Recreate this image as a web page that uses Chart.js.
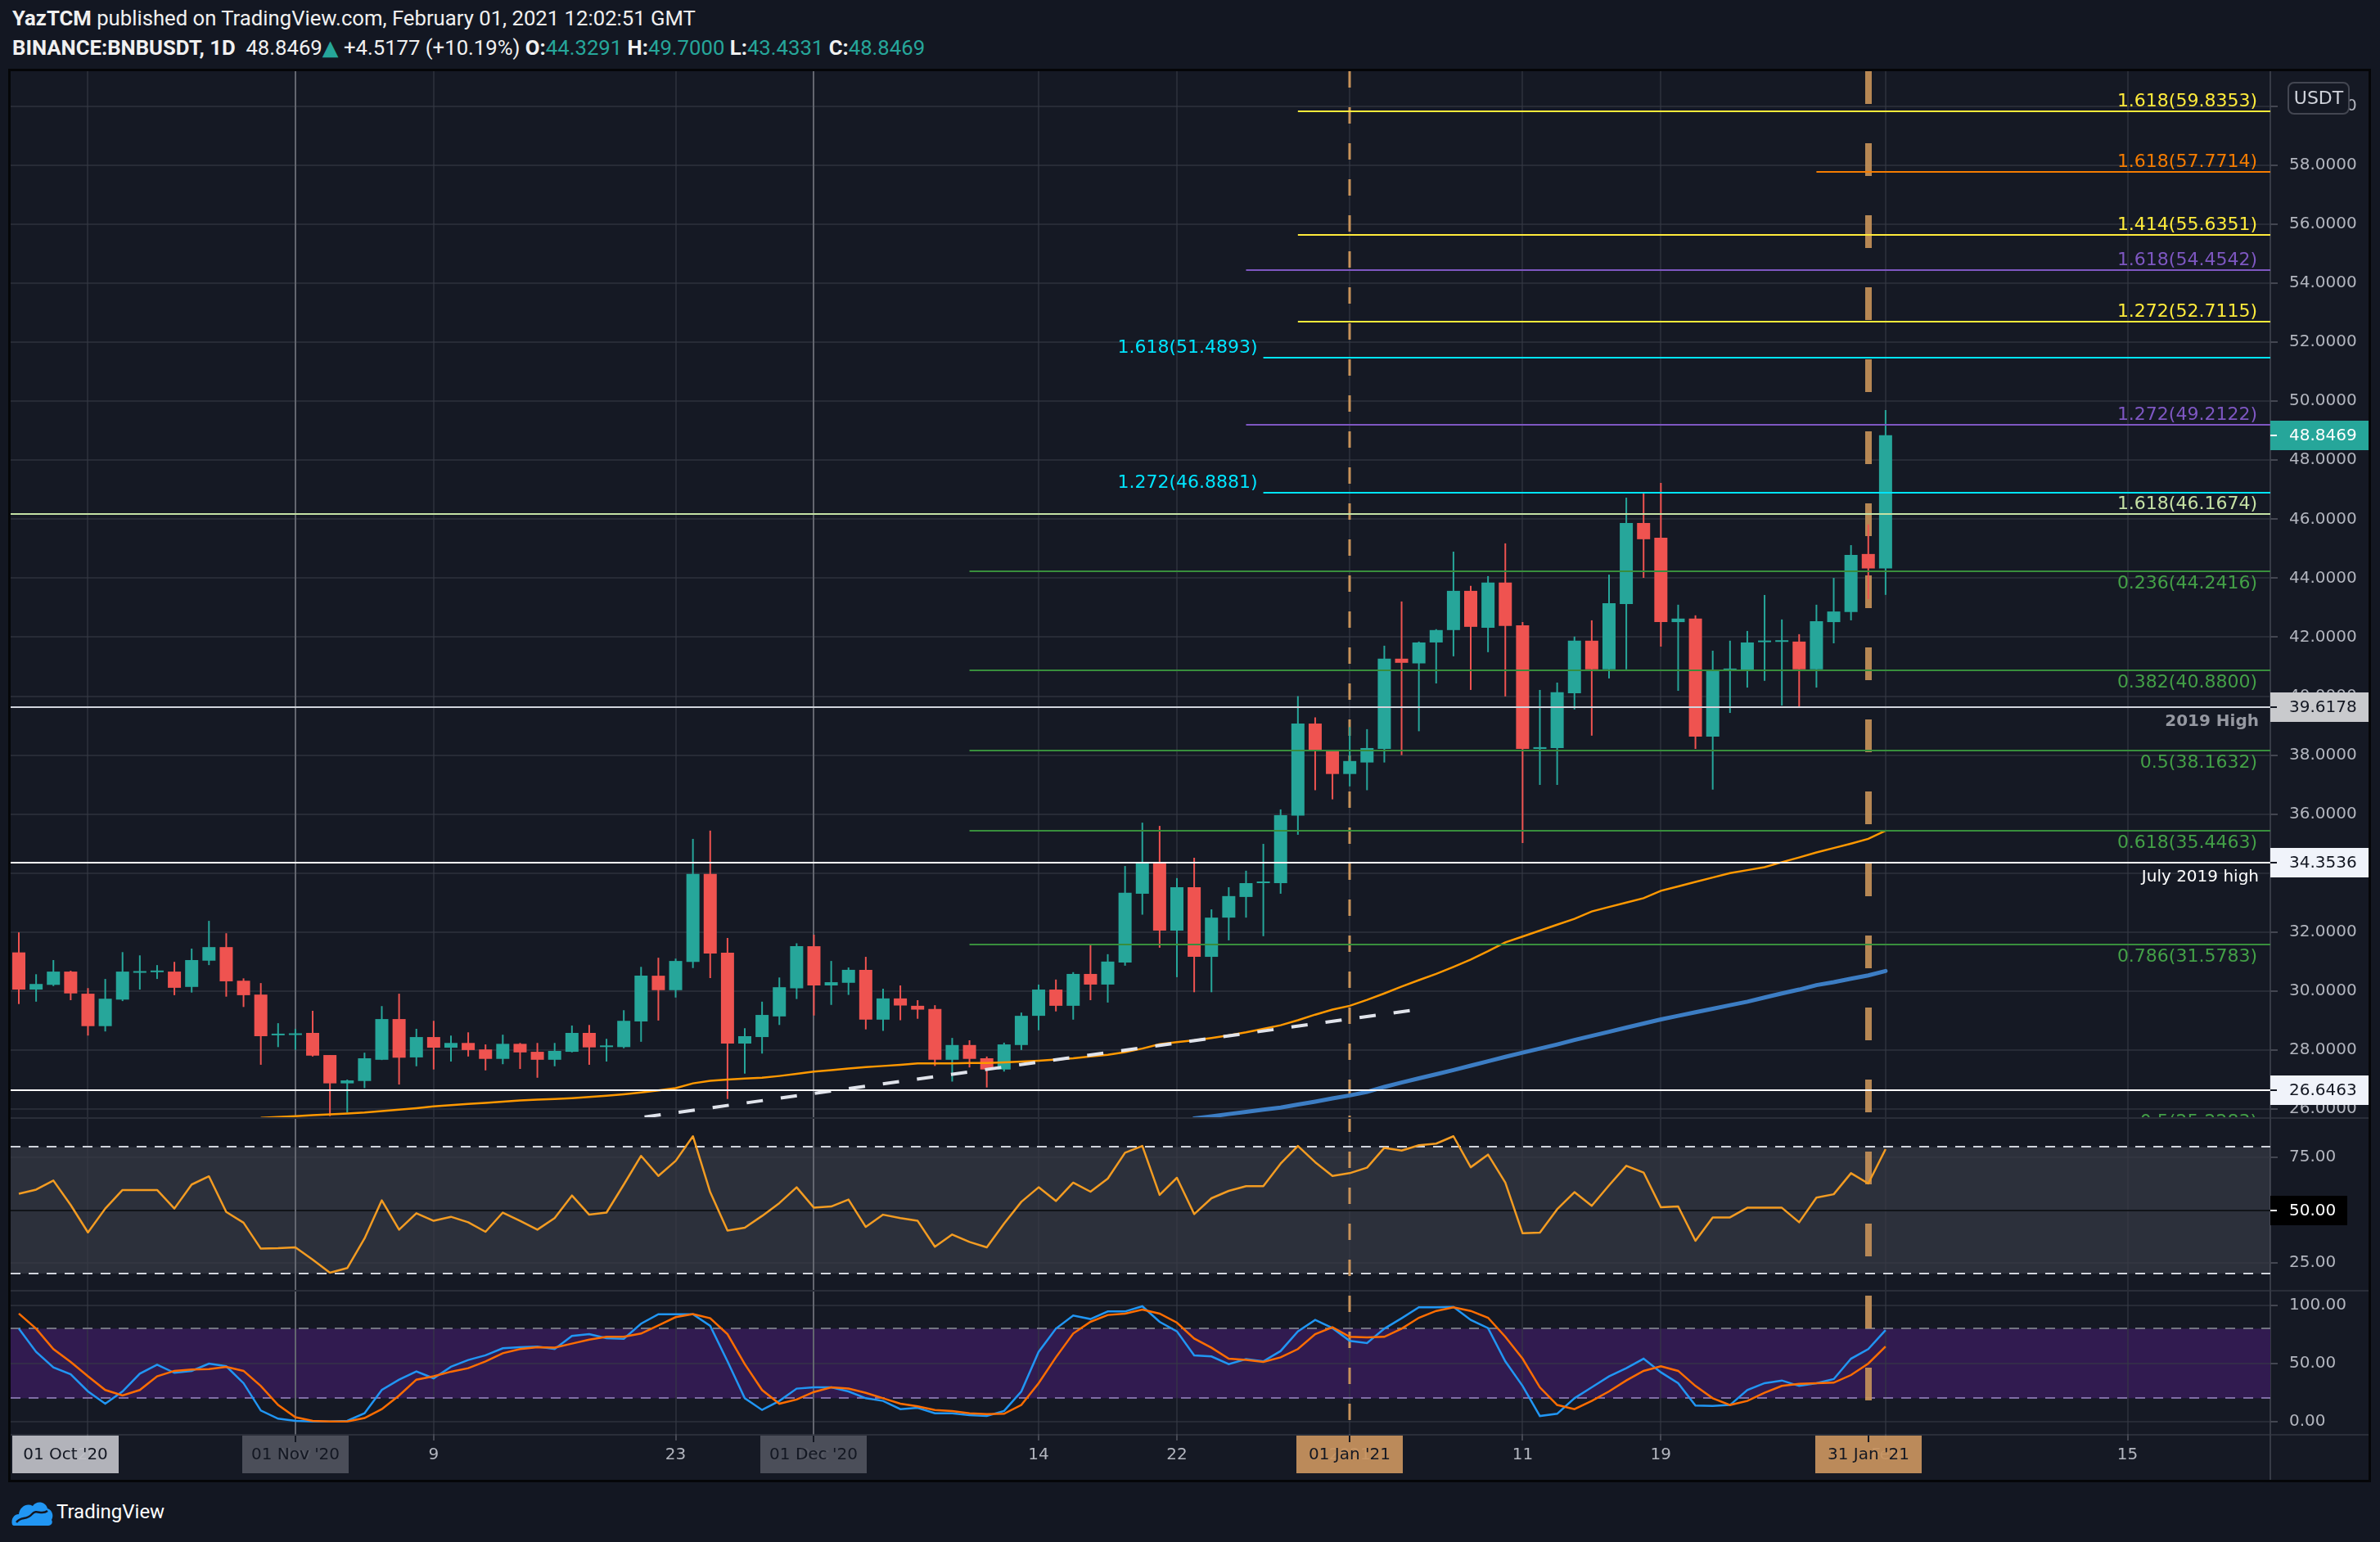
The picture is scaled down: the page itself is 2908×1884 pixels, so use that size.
<!DOCTYPE html>
<html>
<head>
<meta charset="utf-8">
<title>BINANCE:BNBUSDT 1D</title>
<script src="https://cdn.jsdelivr.net/npm/chart.js@4.4.1/dist/chart.umd.min.js"></script>
<style>
  html, body { margin:0; padding:0; width:2908px; height:1884px; background:#131722; overflow:hidden; }
  body { position:relative; font-family: Roboto, "DejaVu Sans", sans-serif; }
  #frame { position:absolute; left:10px; top:84px; width:2887px; height:1727px; box-sizing:border-box; border:3px solid #050608; background:#151924; }
  .hl { position:absolute; background:#2a2e39; }
  canvas { position:absolute; }
  .hdr { position:absolute; left:15px; font-size:25.7px; line-height:30px; color:#f0f0f0; white-space:nowrap; }
  .hdr b { font-weight:700; }
  .teal { color:#26a69a; }
  #tvtext { position:absolute; left:69px; top:1832px; font-size:24px; line-height:30px; color:#ffffff; }
</style>
</head>
<body>
<div id="frame"></div>
<div class="hl" style="left:13px;top:1365px;width:2881px;height:2px"></div>
<div class="hl" style="left:13px;top:1576px;width:2881px;height:2px"></div>
<div class="hl" style="left:13px;top:1752px;width:2881px;height:2px"></div>
<div class="hl" style="left:2773px;top:87px;width:2px;height:1721px;background:#363a45"></div>
<canvas id="cMain" width="2881" height="1278" style="left:13px;top:87px;width:2881px;height:1278px"></canvas>
<canvas id="cRsi" width="2881" height="209" style="left:13px;top:1367px;width:2881px;height:209px"></canvas>
<canvas id="cSto" width="2881" height="230" style="left:13px;top:1578px;width:2881px;height:230px"></canvas>

<div class="hdr" style="top:7px"><b>YazTCM</b> published on TradingView.com, February 01, 2021 12:02:51 GMT</div>
<div class="hdr" style="top:43px"><b>BINANCE:BNBUSDT, 1D</b>&nbsp; 48.8469<span class="teal">▲</span> +4.5177 (+10.19%) <b>O:</b><span class="teal">44.3291</span> <b>H:</b><span class="teal">49.7000</span> <b>L:</b><span class="teal">43.4331</span> <b>C:</b><span class="teal">48.8469</span></div>

<svg style="position:absolute;left:12px;top:1830px" width="54" height="36" viewBox="0 0 54 36">
  <path d="M3 33 C1 26 5 20 11 20 C12 11 21 6 28 10 C32 3 44 4 46 13 C52 15 54 22 51 27 C53 30 51 34 47 34 L7 34 C5 34 4 34 3 33 Z" fill="#2196f3"/>
  <path d="M8 30 C14 22 20 28 27 20 C33 13 38 22 46 16" stroke="#131722" stroke-width="2.5" fill="none"/>
</svg>
<div id="tvtext">TradingView</div>

<script>
// ---------------- DATA ----------------
const dates = [
'2020-10-16','2020-10-17','2020-10-18','2020-10-19','2020-10-20','2020-10-21','2020-10-22','2020-10-23','2020-10-24','2020-10-25','2020-10-26','2020-10-27','2020-10-28','2020-10-29','2020-10-30','2020-10-31',
'2020-11-01','2020-11-02','2020-11-03','2020-11-04','2020-11-05','2020-11-06','2020-11-07','2020-11-08','2020-11-09','2020-11-10','2020-11-11','2020-11-12','2020-11-13','2020-11-14','2020-11-15','2020-11-16','2020-11-17','2020-11-18','2020-11-19','2020-11-20','2020-11-21','2020-11-22','2020-11-23','2020-11-24','2020-11-25','2020-11-26','2020-11-27','2020-11-28','2020-11-29','2020-11-30',
'2020-12-01','2020-12-02','2020-12-03','2020-12-04','2020-12-05','2020-12-06','2020-12-07','2020-12-08','2020-12-09','2020-12-10','2020-12-11','2020-12-12','2020-12-13','2020-12-14','2020-12-15','2020-12-16','2020-12-17','2020-12-18','2020-12-19','2020-12-20','2020-12-21','2020-12-22','2020-12-23','2020-12-24','2020-12-25','2020-12-26','2020-12-27','2020-12-28','2020-12-29','2020-12-30','2020-12-31',
'2021-01-01','2021-01-02','2021-01-03','2021-01-04','2021-01-05','2021-01-06','2021-01-07','2021-01-08','2021-01-09','2021-01-10','2021-01-11','2021-01-12','2021-01-13','2021-01-14','2021-01-15','2021-01-16','2021-01-17','2021-01-18','2021-01-19','2021-01-20','2021-01-21','2021-01-22','2021-01-23','2021-01-24','2021-01-25','2021-01-26','2021-01-27','2021-01-28','2021-01-29','2021-01-30','2021-01-31',
'2021-02-01'];

const open = [31.31,30.05,30.21,30.66,29.91,28.81,29.71,30.62,30.64,30.66,
30.14,31.03,31.49,30.35,29.88,28.50,28.51,28.58,27.83,26.87,
26.95,27.67,29.05,27.75,28.44,28.08,28.24,28.02,27.70,28.21,
27.94,27.67,27.94,28.58,28.10,28.10,28.97,30.52,30.03,30.99,
33.97,31.30,28.22,28.44,29.14,30.09,31.52,30.19,30.28,30.72,
29.03,29.75,29.50,29.39,27.67,28.17,27.72,27.34,28.17,29.16,
30.05,29.50,30.58,30.22,30.97,33.30,34.33,32.05,33.52,31.16,
32.49,33.19,33.66,33.66,35.95,39.07,38.17,37.36,37.75,38.21,
41.27,41.11,41.82,42.24,43.57,42.32,43.85,42.40,38.21,38.24,
40.10,41.88,40.91,43.12,45.87,45.37,42.51,42.63,38.63,40.88,
40.88,41.83,41.84,41.85,40.91,42.51,42.85,44.82,44.3291];

const high = [31.99,30.57,31.05,30.69,30.10,30.41,31.32,31.21,30.88,30.99,
31.44,32.38,31.96,30.43,30.27,28.91,28.72,29.33,27.83,27.00,
27.91,29.49,29.91,28.72,28.99,28.49,28.60,28.19,28.52,28.24,
28.24,28.24,28.83,28.85,28.38,29.35,30.82,31.13,31.10,35.16,
35.44,31.80,28.74,29.64,30.46,31.62,31.91,31.02,30.80,31.16,
30.08,30.19,29.69,29.52,28.41,28.33,27.78,28.25,29.27,30.22,
30.39,30.64,31.58,31.25,34.24,35.71,35.60,33.83,34.52,32.77,
33.52,34.08,34.99,36.16,40.00,39.28,38.17,38.95,38.88,41.71,
43.21,41.85,42.27,44.90,43.74,44.07,45.18,42.51,40.21,40.46,
42.02,42.57,44.12,46.73,46.87,47.23,43.10,42.74,41.54,41.88,
42.21,43.43,42.60,42.10,43.10,44.01,45.12,45.82,49.70];

const low = [29.56,29.64,30.17,29.69,28.49,28.63,29.66,30.05,30.41,29.86,
29.95,30.88,29.81,29.46,27.50,28.10,28.01,27.78,25.76,25.88,
26.71,27.66,26.83,27.45,27.34,27.61,27.78,27.31,27.52,27.36,
27.06,27.45,27.92,27.50,27.61,28.06,28.28,29.00,29.78,30.78,
30.44,26.34,27.20,27.88,28.85,29.73,29.17,29.53,29.87,28.70,
28.65,29.01,29.06,27.46,26.93,27.41,26.73,27.27,28.00,28.67,
29.31,29.03,29.69,29.61,30.86,32.59,31.47,30.47,29.96,29.96,
31.72,32.49,31.86,33.30,35.30,36.81,36.50,36.94,36.81,37.75,
38.00,38.81,40.43,41.35,40.21,41.49,39.99,35.02,36.99,36.99,
39.55,38.66,40.60,40.91,44.01,41.68,40.18,38.21,36.83,39.43,
40.29,40.52,39.68,39.65,40.29,41.79,42.57,43.29,43.4331];

const close = [30.05,30.24,30.66,29.92,28.81,29.74,30.66,30.66,30.68,30.11,
31.05,31.49,30.33,29.86,28.47,28.53,28.54,27.81,26.87,26.97,
27.72,29.05,27.74,28.44,28.08,28.24,28.00,27.70,28.21,27.92,
27.67,27.97,28.58,28.09,28.14,28.99,30.52,30.03,31.02,33.97,
31.27,28.22,28.47,29.19,30.13,31.52,30.19,30.30,30.72,29.03,
29.75,29.51,29.37,27.67,28.17,27.70,27.34,28.19,29.16,30.05,
29.50,30.58,30.22,31.00,33.33,34.33,32.05,33.52,31.16,32.49,
33.22,33.66,33.70,35.96,39.07,38.14,37.36,37.80,38.24,41.27,
41.13,41.82,42.24,43.57,42.35,43.85,42.38,38.21,38.27,40.13,
41.88,40.91,43.15,45.87,45.32,42.51,42.63,38.63,40.88,40.93,
41.82,41.86,41.86,40.91,42.54,42.87,44.79,44.3292,48.8469];

const maOrange = [null,null,null,null,null,null,null,null,null,null,
null,null,null,null,25.70,25.73,25.76,25.79,25.82,25.85,
25.88,25.93,25.98,26.03,26.09,26.13,26.17,26.21,26.25,26.29,
26.32,26.34,26.37,26.41,26.45,26.50,26.56,26.63,26.71,26.87,
26.96,27.00,27.03,27.06,27.12,27.19,27.27,27.32,27.37,27.42,
27.46,27.50,27.55,27.55,27.55,27.56,27.56,27.58,27.61,27.64,
27.68,27.72,27.78,27.84,27.93,28.05,28.20,28.27,28.33,28.41,
28.50,28.60,28.72,28.84,29.01,29.20,29.37,29.50,29.70,29.92,
30.15,30.37,30.58,30.82,31.07,31.35,31.65,31.85,32.05,32.25,
32.45,32.70,32.85,33.00,33.15,33.40,33.55,33.70,33.85,34.00,
34.10,34.20,34.37,34.53,34.70,34.85,35.00,35.16,35.44];

const maBlue = [null,null,null,null,null,null,null,null,null,null,
null,null,null,null,null,null,null,null,null,null,
null,null,null,null,null,null,null,null,null,null,
null,null,null,null,null,null,null,null,null,null,
null,null,null,null,null,null,null,null,null,null,
null,null,null,null,null,null,null,null,null,null,
null,null,null,null,null,null,null,null,25.68,25.75,
25.83,25.90,25.98,26.05,26.15,26.25,26.36,26.46,26.58,26.75,
26.90,27.04,27.18,27.32,27.47,27.62,27.77,27.91,28.05,28.19,
28.34,28.48,28.62,28.76,28.90,29.04,29.16,29.28,29.40,29.52,
29.64,29.78,29.92,30.05,30.20,30.30,30.42,30.53,30.68];

const rsi = [57.8,59.8,64.1,52.5,39.5,50.8,59.6,59.6,59.6,50.8,
62.2,66.1,49.2,44.1,31.8,32.0,32.4,26.6,20.4,22.6,
36.6,54.7,40.8,48.6,45.0,46.9,44.3,39.8,48.9,45.0,
40.8,46.3,57.0,47.9,48.9,62.2,75.8,66.3,73.4,85.1,
58.6,40.4,41.7,47.3,53.4,60.9,51.2,51.8,55.1,42.1,
47.9,46.3,45.0,32.7,38.5,35.0,32.4,43.7,54.0,60.9,
54.4,63.1,58.8,65.0,77.3,80.5,57.3,65.4,48.2,55.7,
59.2,61.4,61.4,72.1,80.5,72.8,66.3,67.6,70.2,79.6,
78.3,80.8,81.6,85.1,70.4,76.4,63.1,39.1,39.4,50.5,
58.6,52.1,61.8,71.1,67.9,51.4,51.8,35.5,46.6,46.6,
51.2,51.2,51.2,44.3,56.0,57.6,67.6,62.7,79.0];

const stochK = [80.0,60.0,46.6,40.7,25.9,15.3,25.9,41.2,48.9,41.9,
43.6,49.9,47.6,33.0,9.4,2.4,0.5,0.0,0.0,0.5,
7.1,27.1,36.0,43.1,37.2,47.1,53.0,57.0,63.1,64.0,
64.5,62.4,73.7,75.3,71.8,71.3,84.3,92.5,92.5,92.5,
82.4,51.8,20.0,9.9,17.7,28.3,29.4,29.4,25.9,20.0,
17.7,10.6,11.8,7.1,7.1,5.4,4.7,9.0,25.9,60.0,
80.0,91.3,88.3,94.8,94.8,99.3,85.9,77.7,57.0,56.0,
49.4,53.7,51.8,60.7,77.7,87.5,80.5,69.4,67.5,80.0,
89.0,98.4,98.4,98.8,87.5,80.5,51.8,30.6,4.7,6.6,
20.0,29.4,38.9,45.9,54.1,42.4,33.0,13.7,13.4,14.2,
27.1,33.0,35.3,30.6,33.0,36.5,54.1,62.4,78.8];

const stochD = [93.0,80.0,62.4,51.3,38.9,27.1,22.4,27.1,38.9,43.6,
44.7,45.2,47.1,43.6,30.6,14.2,3.6,0.5,0.0,0.0,
2.9,10.6,22.4,36.0,38.9,42.9,45.9,51.8,58.8,62.4,
64.0,63.6,67.1,70.6,73.0,73.0,75.8,82.8,89.9,92.5,
89.0,75.3,49.4,27.1,15.3,18.9,25.4,29.4,28.3,24.7,
20.0,15.3,13.0,9.9,9.0,7.1,6.4,6.6,14.2,33.0,
55.3,75.8,85.9,91.8,93.0,96.5,93.0,85.2,71.5,63.6,
54.1,53.0,51.3,55.3,62.4,75.3,81.2,73.0,72.5,73.0,
80.0,89.4,95.3,98.4,95.3,89.4,73.0,54.1,29.4,14.2,
10.6,17.7,25.9,35.3,43.6,47.6,43.6,30.6,20.0,14.2,
17.7,24.7,30.6,32.5,33.0,33.4,40.0,49.9,64.7];

// Fibonacci levels (price, ratio text, first date of the drawing)
const fibPrices = [59.8353, 57.7714, 55.6351, 54.4542, 52.7115, 51.4893, 49.2122, 46.8881, 46.1674, 44.2416, 40.8800, 38.1632, 35.4463, 31.5783, 25.2283];
const fibRatios = ['1.618','1.618','1.414','1.618','1.272','1.618','1.272','1.272','1.618','0.236','0.382','0.5','0.618','0.786','0.5'];
const fibFromDates = ['2020-12-29','2021-01-28','2020-12-29','2020-12-26','2020-12-29','2020-12-27','2020-12-26','2020-12-27',null,'2020-12-10','2020-12-10','2020-12-10','2020-12-10','2020-12-10','2020-12-10'];

// Horizontal support / resistance lines
const levelPrices = [39.6178, 34.3536, 26.6463];
const levelNotes = ['2019 High', 'July 2019 high', ''];

// Trend line (two anchor points: candle position, price)
const trendPos = [37.2, 82.0];
const trendPrice = [25.73, 29.38];

// Axis ticks
const yTicksMain = [26,28,30,32,34,36,38,40,42,44,46,48,50,52,54,56,58,60];
const yTicksRsi = [25, 50, 75];
const yTicksSto = [0, 50, 100];
const xTickDates = ['2020-10-20','2020-11-01','2020-11-09','2020-11-23','2020-12-01','2020-12-14','2020-12-22','2021-01-01','2021-01-11','2021-01-19','2021-02-01','2021-02-15'];
const xTickText = ['20','Nov','9','23','Dec','14','22','2021','11','19','Feb','15'];
const markerDates = [null, '2020-11-01', '2020-12-01', '2021-01-01', '2021-01-31'];
const markerText = ["01 Oct '20", "01 Nov '20", "01 Dec '20", "01 Jan '21", "31 Jan '21"];

// ---------------- STYLE ----------------
const UP = '#26a69a', DOWN = '#ef5350';
const GRID = 'rgba(54,58,69,0.55)';
const FONT = '"DejaVu Sans"';
const FRAME_TOP = 87;
const X_VIEW = {min: 0.5265, max: 131.26};
const VIEW_MAIN = {min: 25.722, max: 61.19};
const VIEW_RSI = {min: 12.24, max: 93.34};
const VIEW_STO = {min: -10.8, max: 112.0};
const FIB_LOOK = [
  {c:'#ffeb3b', pos:'ra'}, {c:'#f57c00', pos:'ra'}, {c:'#ffeb3b', pos:'ra'}, {c:'#7e57c2', pos:'ra'},
  {c:'#ffeb3b', pos:'ra'}, {c:'#00e5ff', pos:'la'}, {c:'#7e57c2', pos:'ra'}, {c:'#00e5ff', pos:'la'},
  {c:'#c5e1a5', pos:'ra'},
  {c:'#388e3c', t:'#43a047', pos:'rb'}, {c:'#388e3c', t:'#43a047', pos:'rb'}, {c:'#388e3c', t:'#43a047', pos:'rb'},
  {c:'#388e3c', t:'#43a047', pos:'rb'}, {c:'#388e3c', t:'#43a047', pos:'rb'}, {c:'#388e3c', t:'#43a047', pos:'ra'}
];
const LEVEL_LOOK = [
  {c:'#d1d4dc', t:'#9598a1', font:'bold 20px ' + FONT},
  {c:'#ffffff', t:'#ffffff', font:'20px ' + FONT},
  {c:'#ffffff', t:'#ffffff', font:'20px ' + FONT}
];
const TAG_LOOK = [
  {bg:'#26a69a', fg:'#ffffff'},
  {bg:'#c9cacd', fg:'#131722'},
  {bg:'#f0f3fa', fg:'#131722'},
  {bg:'#f0f3fa', fg:'#131722'}
];
const MARKER_LOOK = [
  {box:'#bec0c6'},
  {box:'#50535e', line:'#63666f', w:2},
  {box:'#50535e', line:'#63666f', w:2},
  {box:'#c8935f', line:'#c8935a', w:3, dash:[20,24]},
  {box:'#c8935f', line:'rgba(200,147,90,0.9)', w:8, dash:[40,48]}
];

// ---------------- HELPERS ----------------
const DAY0 = Date.parse(dates[0]);
function dayIndex(d){ return 1 + Math.round((Date.parse(d) - DAY0) / 86400000); }
const pos = dates.map((d) => dayIndex(d));
const xTickIdx = xTickDates.map(dayIndex);
const candleColors = close.map((c, i) => c >= open[i] ? UP : DOWN);

Chart.defaults.font.family = 'DejaVu Sans';

function common(){
  return { responsive:false, maintainAspectRatio:false, devicePixelRatio:1, animation:false, events:[],
    layout:{padding:0}, plugins:{legend:{display:false}, tooltip:{enabled:false}} };
}
function xAxis(showLabels){
  return {
    type:'linear', min:X_VIEW.min, max:X_VIEW.max, offset:false, bounds:'data',
    grid:{color:GRID, lineWidth:2, offset:false, drawTicks:showLabels, tickLength:8, tickColor:'#434651', tickWidth:2},
    border:{display:false},
    ticks:{display:showLabels, autoSkip:false, maxRotation:0, minRotation:0, padding:6, color:'#b2b5be',
      font:{size:20, family:'DejaVu Sans'},
      callback:(v) => { const k = xTickIdx.indexOf(v); return k >= 0 ? xTickText[k] : ''; }},
    afterBuildTicks:(s) => { s.ticks = xTickIdx.map(v => ({value:v})); },
    afterFit:(s) => { s.height = showLabels ? 56 : 0; s.paddingLeft = 0; s.paddingRight = 0; }
  };
}
function yAxis(view, ticks, dec){
  return {
    type:'linear', position:'right', min:view.min, max:view.max, bounds:'data', beginAtZero:false,
    grid:{color:GRID, lineWidth:2, drawTicks:true, tickLength:9, tickColor:'#434651', tickWidth:2},
    border:{display:false},
    ticks:{autoSkip:false, padding:14, color:'#b2b5be', font:{size:20, family:'DejaVu Sans'},
      callback:(v) => Number(v).toFixed(dec)},
    afterBuildTicks:(s) => { s.ticks = ticks.map(v => ({value:v})); },
    afterFit:(s) => { s.width = 120; s.paddingTop = 0; s.paddingBottom = 0; }
  };
}
function clipArea(ctx, a){ ctx.beginPath(); ctx.rect(a.left, a.top, a.right - a.left, a.bottom - a.top); ctx.clip(); }
function hLine(ctx, x0, x1, y){ ctx.beginPath(); ctx.moveTo(x0, y); ctx.lineTo(x1, y); ctx.stroke(); }

function drawMarkers(chart, absTop){
  const {ctx, chartArea:a, scales:{x}} = chart;
  ctx.save(); clipArea(ctx, a);
  markerDates.forEach((d, k) => {
    const look = MARKER_LOOK[k];
    if (!d || !look.line) return;
    const px = Math.round(x.getPixelForValue(dayIndex(d)));
    ctx.strokeStyle = look.line; ctx.lineWidth = look.w;
    if (look.dash){ ctx.setLineDash(look.dash); ctx.lineDashOffset = (absTop - FRAME_TOP) % (look.dash[0] + look.dash[1]); }
    else ctx.setLineDash([]);
    ctx.beginPath(); ctx.moveTo(px, a.top); ctx.lineTo(px, a.bottom); ctx.stroke();
  });
  ctx.restore();
}

// ---------------- MAIN PRICE PANE ----------------
const mainDeco = {
  id:'mainDeco',
  beforeDatasetsDraw(chart){ drawMarkers(chart, 87); },
  afterDatasetsDraw(chart){
    const {ctx, chartArea:a, scales:{x, y}} = chart;
    ctx.save(); clipArea(ctx, a); ctx.setLineDash([]);
    levelPrices.forEach((p, k) => {
      const py = Math.round(y.getPixelForValue(p));
      const look = LEVEL_LOOK[k];
      ctx.strokeStyle = look.c; ctx.lineWidth = 2; hLine(ctx, a.left, a.right, py);
      if (levelNotes[k]){
        ctx.font = look.font; ctx.fillStyle = look.t; ctx.textAlign = 'right'; ctx.textBaseline = 'alphabetic';
        ctx.fillText(levelNotes[k], a.right - 14, py + 23);
      }
    });
    fibPrices.forEach((p, k) => {
      const py = Math.round(y.getPixelForValue(p));
      const x0 = fibFromDates[k] ? x.getPixelForValue(dayIndex(fibFromDates[k])) : a.left;
      const look = FIB_LOOK[k];
      ctx.strokeStyle = look.c; ctx.lineWidth = 2; hLine(ctx, x0, a.right, py);
      const txt = fibRatios[k] + '(' + p.toFixed(4) + ')';
      ctx.font = '22px ' + FONT; ctx.fillStyle = look.t || look.c; ctx.textAlign = 'right'; ctx.textBaseline = 'alphabetic';
      if (look.pos === 'la') ctx.fillText(txt, x0 - 7, py - 6);
      else if (look.pos === 'ra') ctx.fillText(txt, a.right - 16, py - 6);
      else ctx.fillText(txt, a.right - 16, py + 21);
    });
    ctx.restore();
  },
  afterDraw(chart){
    const {ctx, chartArea:a, scales:{y}} = chart;
    ctx.save();
    ctx.font = '20px ' + FONT; ctx.textBaseline = 'middle'; ctx.textAlign = 'left';
    const tagPrices = [close[close.length - 1]].concat(levelPrices);
    tagPrices.forEach((p, k) => {
      const py = Math.round(y.getPixelForValue(p));
      const look = TAG_LOOK[k];
      ctx.fillStyle = look.bg; ctx.fillRect(a.right, py - 18, 120, 36);
      ctx.fillStyle = look.fg; ctx.fillRect(a.right, py - 1, 8, 2);
      ctx.fillText(p.toFixed(4), a.right + 23, py + 1);
    });
    // currency badge
    ctx.beginPath(); ctx.roundRect(a.right + 22, 14, 74, 38, 7);
    ctx.fillStyle = '#151924'; ctx.fill(); ctx.strokeStyle = '#434651'; ctx.lineWidth = 2; ctx.stroke();
    ctx.fillStyle = '#d1d4dc'; ctx.font = '22px ' + FONT; ctx.textAlign = 'center';
    ctx.fillText('USDT', a.right + 59, 34);
    ctx.restore();
  }
};

new Chart(document.getElementById('cMain'), {
  type:'bar',
  data:{ datasets:[
    {type:'line', data: trendPos.map((p, i) => ({x:p, y:trendPrice[i]})), borderColor:'#e0e3eb', borderWidth:4,
      borderDash:[20,22], pointRadius:0, order:0, clip:0},
    {type:'line', data: pos.map((p, i) => ({x:p, y:maOrange[i]})), borderColor:'#ff9800', borderWidth:2.5,
      pointRadius:0, tension:0, order:1, clip:0, spanGaps:false},
    {type:'line', data: pos.map((p, i) => ({x:p, y:maBlue[i]})), borderColor:'#3c7dc4', borderWidth:5,
      pointRadius:0, tension:0, order:2, clip:0, spanGaps:false, borderCapStyle:'round'},
    {type:'bar', data: pos.map((p, i) => ({x:p, y:[open[i], close[i]]})), backgroundColor:candleColors,
      barThickness:16, grouped:false, minBarLength:2, inflateAmount:0, order:3, clip:0},
    {type:'bar', data: pos.map((p, i) => ({x:p, y:[low[i], high[i]]})), backgroundColor:candleColors,
      barThickness:2, grouped:false, inflateAmount:0, order:4, clip:0}
  ]},
  options: Object.assign(common(), { scales:{ x:xAxis(false), y:yAxis(VIEW_MAIN, yTicksMain, 4) } }),
  plugins:[mainDeco]
});

// ---------------- RSI PANE ----------------
const rsiDeco = {
  id:'rsiDeco',
  beforeDraw(chart){
    const {ctx, chartArea:a, scales:{y}} = chart;
    const y1 = y.getPixelForValue(80), y2 = y.getPixelForValue(20);
    ctx.save(); ctx.fillStyle = 'rgba(120,123,134,0.24)'; ctx.fillRect(a.left, y1, a.right - a.left, y2 - y1); ctx.restore();
  },
  beforeDatasetsDraw(chart){
    const {ctx, chartArea:a, scales:{y}} = chart;
    ctx.save(); clipArea(ctx, a);
    ctx.strokeStyle = '#d1d4dc'; ctx.lineWidth = 2; ctx.setLineDash([12,10]);
    hLine(ctx, a.left, a.right, Math.round(y.getPixelForValue(80)));
    hLine(ctx, a.left, a.right, Math.round(y.getPixelForValue(20)));
    ctx.setLineDash([]); ctx.strokeStyle = 'rgba(8,9,12,0.75)';
    hLine(ctx, a.left, a.right, Math.round(y.getPixelForValue(50)));
    ctx.restore();
    drawMarkers(chart, 1367);
  },
  afterDraw(chart){
    const {ctx, chartArea:a, scales:{y}} = chart;
    const py = Math.round(y.getPixelForValue(50));
    ctx.save();
    ctx.fillStyle = '#000000'; ctx.fillRect(a.right, py - 18, 94, 36);
    ctx.fillStyle = '#ffffff'; ctx.fillRect(a.right, py - 1, 8, 2);
    ctx.font = '20px ' + FONT; ctx.textBaseline = 'middle'; ctx.textAlign = 'left';
    ctx.fillText('50.00', a.right + 23, py + 1);
    ctx.restore();
  }
};
new Chart(document.getElementById('cRsi'), {
  type:'line',
  data:{ datasets:[
    {data: pos.map((p, i) => ({x:p, y:rsi[i]})), borderColor:'#f39c22', borderWidth:2.5, pointRadius:0, tension:0, clip:0, borderJoinStyle:'round'}
  ]},
  options: Object.assign(common(), { scales:{ x:xAxis(false), y:yAxis(VIEW_RSI, yTicksRsi, 2) } }),
  plugins:[rsiDeco]
});

// ---------------- STOCH RSI PANE ----------------
const stoDeco = {
  id:'stoDeco',
  beforeDraw(chart){
    const {ctx, chartArea:a, scales:{y}} = chart;
    const y1 = y.getPixelForValue(80), y2 = y.getPixelForValue(20);
    ctx.save(); ctx.fillStyle = '#311b50'; ctx.fillRect(a.left, y1, a.right - a.left, y2 - y1); ctx.restore();
  },
  beforeDatasetsDraw(chart){
    const {ctx, chartArea:a, scales:{y}} = chart;
    ctx.save(); clipArea(ctx, a);
    ctx.lineWidth = 2; ctx.setLineDash([12,10]);
    ctx.strokeStyle = 'rgba(120,123,134,0.95)';
    hLine(ctx, a.left, a.right, Math.round(y.getPixelForValue(80)));
    ctx.strokeStyle = 'rgba(150,130,190,0.8)';
    hLine(ctx, a.left, a.right, Math.round(y.getPixelForValue(20)));
    ctx.restore();
    drawMarkers(chart, 1578);
  },
  afterDraw(chart){
    const {ctx, chartArea:a, scales:{x}} = chart;
    ctx.save();
    ctx.font = '20px ' + FONT; ctx.textAlign = 'center'; ctx.textBaseline = 'middle';
    markerText.forEach((t, k) => {
      const look = MARKER_LOOK[k];
      const cx = markerDates[k] ? Math.round(x.getPixelForValue(dayIndex(markerDates[k]))) : a.left + 67;
      ctx.globalAlpha = 0.93; ctx.fillStyle = look.box; ctx.fillRect(cx - 65, a.bottom + 2, 130, 46);
      ctx.globalAlpha = 1; ctx.fillStyle = '#131722';
      ctx.fillText(t, cx, a.bottom + 26);
      if (markerDates[k]) ctx.fillRect(cx - 1, a.bottom + 2, 2, 8);
    });
    ctx.restore();
  }
};
new Chart(document.getElementById('cSto'), {
  type:'line',
  data:{ datasets:[
    {data: pos.map((p, i) => ({x:p, y:stochD[i]})), borderColor:'#ff6d00', borderWidth:2.5, pointRadius:0, tension:0, clip:0, order:0},
    {data: pos.map((p, i) => ({x:p, y:stochK[i]})), borderColor:'#2196f3', borderWidth:2.5, pointRadius:0, tension:0, clip:0, order:1}
  ]},
  options: Object.assign(common(), { scales:{ x:xAxis(true), y:yAxis(VIEW_STO, yTicksSto, 2) } }),
  plugins:[stoDeco]
});
</script>
</body>
</html>
